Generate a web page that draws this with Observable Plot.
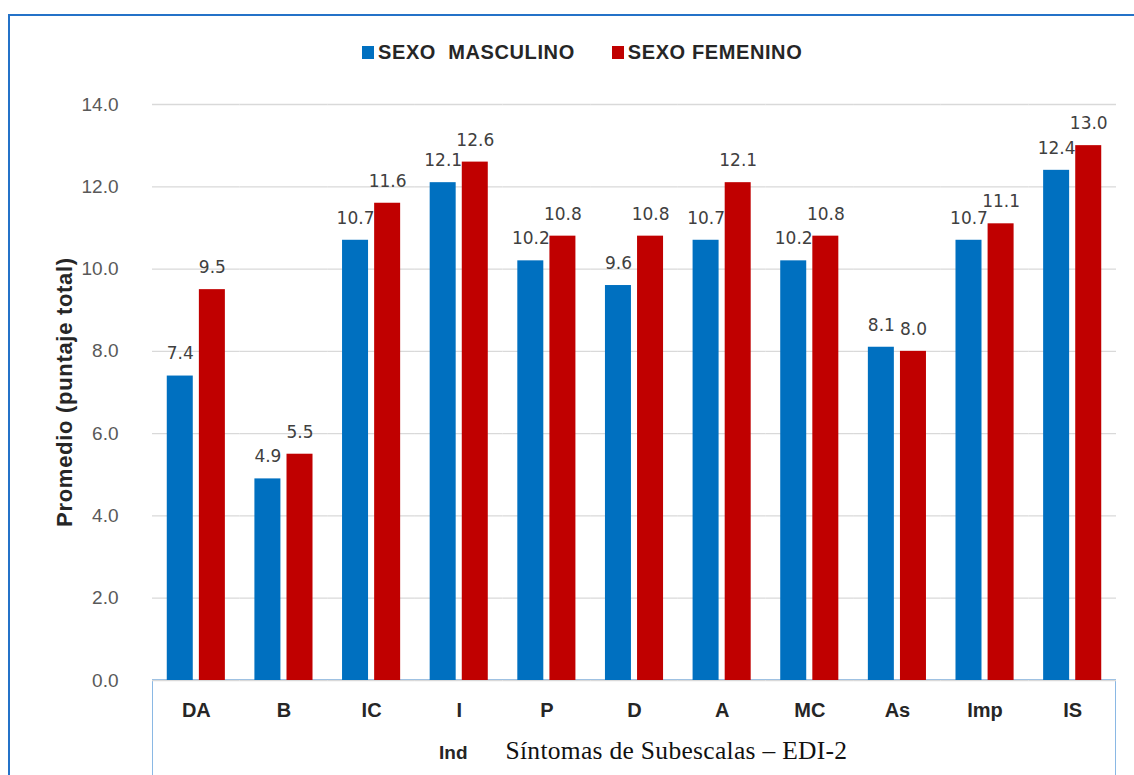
<!DOCTYPE html>
<html>
<head>
<meta charset="utf-8">
<script src="https://cdn.jsdelivr.net/npm/d3@7"></script>
<script src="https://cdn.jsdelivr.net/npm/@observablehq/plot@0.6"></script>
<style>
  html, body { margin: 0; padding: 0; background: #fff; }
  #chart { position: relative; width: 1134px; height: 775px; overflow: hidden; background: #fff; }
  #frame { position: absolute; left: 8px; top: 14px; width: 1200px; height: 900px;
           border-top: 2px solid #2472c8; border-left: 2px solid #2472c8; }
  #axisbox { position: absolute; left: 152px; top: 679px; width: 962px; height: 120px;
             border: 1.5px solid #8ab8e4; border-bottom: none; }
  #legend { position: absolute; left: 362px; top: 41px; display: flex; align-items: center;
            font-family: "Liberation Sans", Arial, sans-serif; font-weight: bold; font-size: 20px;
            color: #262626; letter-spacing: 0.6px; }
  #legend .sw { width: 12px; height: 13px; margin-right: 4px; }
  #legend .item { display: flex; align-items: center; white-space: pre; }
  #ylabel { position: absolute; left: 65px; top: 392px; transform: translate(-50%, -50%) rotate(-90deg);
            font-family: "Liberation Sans", Arial, sans-serif; font-weight: bold; font-size: 22px;
            letter-spacing: 0.7px; color: #262626; white-space: nowrap; }
  #xtitle { position: absolute; left: 439px; top: 736px; display: flex; align-items: baseline; white-space: nowrap; }
  #xtitle .ind { font-family: "Liberation Sans", Arial, sans-serif; font-weight: bold; font-size: 19px; color: #262626; }
  #xtitle .name { font-family: "Liberation Serif", "Times New Roman", serif; font-size: 25.5px; color: #111;
                  margin-left: 38px; letter-spacing: 0.3px; }
  #plot { position: absolute; left: 0; top: 80px; }
</style>
</head>
<body>
<div id="chart">
  <div id="frame"></div>
  <div id="axisbox"></div>
  <div id="legend"></div>
  <div id="ylabel">Promedio (puntaje total)</div>
  <div id="xtitle"><span class="ind">Ind</span><span class="name">Síntomas de Subescalas – EDI-2</span></div>
  <div id="plot"></div>
</div>
<script>
// Subescalas del EDI-2 y promedio de puntaje total por sexo
const subescalas = ["DA", "B", "IC", "I", "P", "D", "A", "MC", "As", "Imp", "IS"];
const masculino = [7.4, 4.9, 10.7, 12.1, 10.2, 9.6, 10.7, 10.2, 8.1, 10.7, 12.4];
const femenino  = [9.5, 5.5, 11.6, 12.6, 10.8, 10.8, 12.1, 10.8, 8.0, 11.1, 13.0];
const series = ["SEXO  MASCULINO", "SEXO FEMENINO"];
const colores = ["#0070c0", "#c00000"];
const yTicks = [0, 2, 4, 6, 8, 10, 12, 14];

const filas = subescalas.flatMap((s, i) => [
  {subescala: s, sexo: series[0], valor: masculino[i]},
  {subescala: s, sexo: series[1], valor: femenino[i]}
]);

// leyenda
const legend = document.getElementById("legend");
series.forEach((name, i) => {
  const item = document.createElement("div");
  item.className = "item";
  item.style.marginRight = i === 0 ? "37px" : "0";
  const sw = document.createElement("div");
  sw.className = "sw";
  sw.style.background = colores[i];
  const label = document.createElement("span");
  label.textContent = name;
  item.append(sw, label);
  legend.append(item);
});

const chart = Plot.plot({
  width: 1134,
  height: 695,
  marginTop: 24,
  marginBottom: 95,
  marginLeft: 152,
  marginRight: 18,
  style: {background: "transparent", fontFamily: "'Liberation Sans', Arial, sans-serif"},
  fx: {domain: subescalas, padding: 0, round: false, label: null},
  x: {domain: series, paddingInner: 0.19, paddingOuter: 0.46, round: false, axis: null},
  y: {domain: [0, 14], label: null},
  color: {domain: series, range: colores},
  marks: [
    Plot.gridY(yTicks, {stroke: "#d9d9d9", strokeOpacity: 1, strokeWidth: 1.3}),
    Plot.axisY(yTicks, {tickSize: 0, tickPadding: 34, tickFormat: d3.format(".1f"),
                        fontSize: 19, fill: "#595959", label: null}),
    Plot.axisFx({anchor: "bottom", tickSize: 0, tickPadding: 22, fontSize: 20,
                 fontWeight: "bold", fill: "#262626", label: null}),
    Plot.barY(filas, {fx: "subescala", x: "sexo", y: "valor", fill: "sexo"}),
    Plot.text(filas, {fx: "subescala", x: "sexo", y: "valor",
                      text: d => d.valor.toFixed(1), dy: -22,
                      fontFamily: "'DejaVu Sans', Verdana, sans-serif",
                      fontSize: 17, fill: "#404040"})
  ]
});
document.getElementById("plot").append(chart);
</script>
</body>
</html>
